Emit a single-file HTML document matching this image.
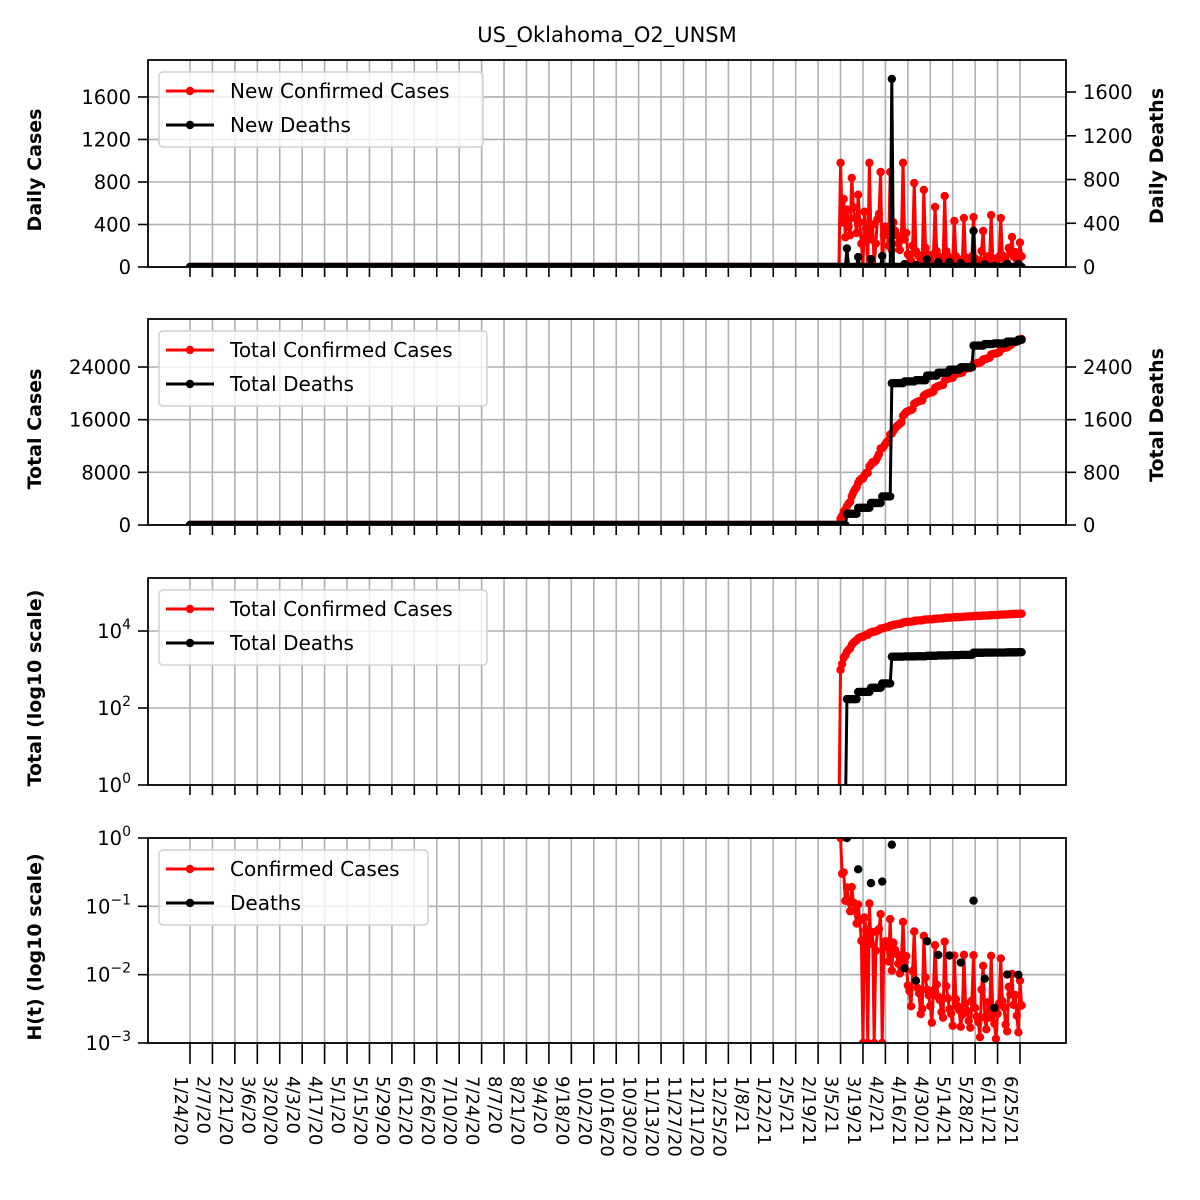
<!DOCTYPE html>
<html><head><meta charset="utf-8">
<style>
html,body{margin:0;padding:0;background:#fff;width:1200px;height:1200px;overflow:hidden;}
svg{display:block;font-family:"DejaVu Sans","Liberation Sans",sans-serif;}
</style></head>
<body>
<svg id="chart" width="1200" height="1200" viewBox="0 0 1200 1200" xmlns="http://www.w3.org/2000/svg">
<rect width="1200" height="1200" fill="#fff"/>
<text x="607" y="42" font-size="21" text-anchor="middle">US_Oklahoma_O2_UNSM</text>
</svg>
<script>
// ---- data ----
const leadingZeroDays = 406; // days 1/24/20 .. 3/4/21 with no reported values
const newCases = [
 980,420,640,280,540,380,300,
 838,560,460,320,680,420,220,
 5,520,360,4,980,260,400,
 5,220,450,500,894,3,300,
 380,330,200,894,160,420,340,
 300,220,160,260,980,260,320,
 120,100,60,200,790,150,120,
 100,50,60,725,180,120,100,
 70,40,120,565,150,100,90,
 60,50,668,150,100,70,60,
 40,433,100,80,70,40,60,
 461,90,70,50,40,100,470,
 80,60,50,30,150,339,60,
 40,100,60,489,80,50,30,
 70,100,461,110,90,50,40,
 180,140,282,100,140,70,40,
 230,100];
const deathDays = [410,417,425,432,438,446,453,460,467,474,481,489,496,502,510,517];
const deathValues = [170,91,73,100,1720,27,18,70,45,45,36,330,24,9,28,28];
const tickLabels = ["1/24/20","2/7/20","2/21/20","3/6/20","3/20/20","4/3/20","4/17/20","5/1/20","5/15/20","5/29/20","6/12/20","6/26/20","7/10/20","7/24/20","8/7/20","8/21/20","9/4/20","9/18/20","10/2/20","10/16/20","10/30/20","11/13/20","11/27/20","12/11/20","12/25/20","1/8/21","1/22/21","2/5/21","2/19/21","3/5/21","3/19/21","4/2/21","4/16/21","4/30/21","5/14/21","5/28/21","6/11/21","6/25/21"];
const tickStep = 14;
const dailyTicksL = [0,400,800,1200,1600];
const dailyTicksR = [0,400,800,1200,1600];
const totalTicksL = [0,8000,16000,24000];
const totalTicksR = [0,800,1600,2400];
const logTotalTicks = [0,2,4];
const logHTicks = [0,-1,-2,-3];

// ---- derived series ----
const nDays = leadingZeroDays + newCases.length;
const daily = [], dailyD = [];
for (let i=0;i<nDays;i++){ daily.push(i<leadingZeroDays?0:newCases[i-leadingZeroDays]); dailyD.push(0); }
deathDays.forEach((d,k)=>{ dailyD[d]=deathValues[k]; });
const total=[], totalD=[]; let s=0, sd=0;
for (let i=0;i<nDays;i++){ s+=daily[i]; sd+=dailyD[i]; total.push(s); totalD.push(sd); }
const hC = daily.map((v,i)=> total[i]>0 ? v/total[i] : NaN);
const hD = dailyD.map((v,i)=> totalD[i]>0 && v>0 ? v/totalD[i] : NaN);

// ---- layout ----
const svg = document.getElementById('chart');
const NS='http://www.w3.org/2000/svg';
const X0=148, X1=1066;
const xDay = d => 190 + d*(830/518);
function el(tag, attrs, parent){ const e=document.createElementNS(NS,tag); for(const k in attrs) e.setAttribute(k,attrs[k]); (parent||svg).appendChild(e); return e; }

const panels = [
 {name:'daily', top:60, bot:267},
 {name:'total', top:319, bot:525},
 {name:'log-total', top:578, bot:785},
 {name:'growth-rate', top:838, bot:1043}
];

function linY(p, max){ return v => p.bot - v/max*(p.bot-p.top); }
function logY(p, lo, hi){ return v => { const l = v>0 ? Math.log10(v) : -40; return p.bot - (l-lo)/(hi-lo)*(p.bot-p.top); }; }

panels.forEach((p,pi)=>{
  const g = el('g',{});
  
  
  p.g=g;
  const cp = el('clipPath',{id:'clip'+pi},g);
  el('rect',{x:X0,y:p.top,width:X1-X0,height:p.bot-p.top},cp);
  tickLabels.forEach((t,i)=>{
    const x=xDay(i*tickStep);
    const gl = el('line',{x1:x,x2:x,y1:p.top,y2:p.bot,stroke:'#b0b0b0','stroke-width':1.6},g);
    
    
    const tk = el('line',{x1:x,x2:x,y1:p.bot,y2:p.bot+(pi===3?21:10),stroke:'#000','stroke-width':1.6},g);
    
    
  });
});

function yTicks(p, vals, yf, labelFn, side){
  vals.forEach(v=>{
    const y=yf(v);
    if(side==='L'){
      const gl=el('line',{x1:X0,x2:X1,y1:y,y2:y,stroke:'#b0b0b0','stroke-width':1.6},p.g);
      
      
      el('line',{x1:X0-10,x2:X0,y1:y,y2:y,stroke:'#000','stroke-width':1.6},p.g);
    } else {
      el('line',{x1:X1,x2:X1+10,y1:y,y2:y,stroke:'#000','stroke-width':1.6},p.g);
    }
    const t=el('text',{x: side==='L'?X0-17:X1+17, y:y+7, 'font-size':19.5,'text-anchor': side==='L'?'end':'start'},p.g);
    
    
    labelFn(t,v);
  });
}
const plainLabel=(t,v)=>{t.textContent=String(v);};
const powLabel=(t,v)=>{ t.textContent='10'; const s=el('tspan',{dy:-9,'font-size':14},t); s.textContent = v<0 ? '\u2212'+(-v) : String(v); };

function series(p, pi, vals, yf, color, name, opts){
  const g=el('g',{'clip-path':'url(#clip'+pi+')'},p.g);
  
  
  const clampY = y => Math.max(p.top-30, Math.min(p.bot+30, y));
  let d='', pen=false;
  vals.forEach((v,i)=>{
    if(Number.isNaN(v)){ pen=false; return; }
    const x=xDay(i), y=clampY(yf(v));
    d += (pen?'L':'M')+x.toFixed(2)+' '+y.toFixed(2);
    pen=true;
  });
  if(!opts||!opts.noLine) el('path',{d:d,fill:'none',stroke:color,'stroke-width':3,'stroke-linejoin':'round'},g);
  vals.forEach((v,i)=>{
    if(Number.isNaN(v)) return;
    if(opts&&opts.skipZero&&v<=0) return;
    const y=yf(v);
    if(y<p.top-10||y>p.bot+10) return;
    const c=el('circle',{cx:xDay(i),cy:y,r:4.2,fill:color},g);
    
    
  });
}

let p=panels[0];
const y1L=linY(p,1948), y1R=linY(p,1893);
yTicks(p,dailyTicksL,y1L,plainLabel,'L');
yTicks(p,dailyTicksR,y1R,plainLabel,'R');
series(p,0,daily,y1L,'#ff0000','new-cases-series');
series(p,0,dailyD,y1R,'#000000','new-deaths-series');
p=panels[1];
const y2L=linY(p,31290), y2R=linY(p,3129);
yTicks(p,totalTicksL,y2L,plainLabel,'L');
yTicks(p,totalTicksR,y2R,plainLabel,'R');
series(p,1,total,y2L,'#ff0000','total-cases-series');
series(p,1,totalD,y2R,'#000000','total-deaths-series');
p=panels[2];
const y3=logY(p,0,5.377);
yTicks(p,logTotalTicks,v=>y3(Math.pow(10,v)),powLabel,'L');
series(p,2,total,y3,'#ff0000','log-total-cases-series',{skipZero:true});
series(p,2,totalD,y3,'#000000','log-total-deaths-series',{skipZero:true});
p=panels[3];
const y4=logY(p,-3,0);
yTicks(p,logHTicks,v=>y4(Math.pow(10,v)),powLabel,'L');
series(p,3,hC,v=>Math.min(p.bot,y4(v)),'#ff0000','h-cases-series');
series(p,3,hD,y4,'#000000','h-deaths-series',{noLine:true});

panels.forEach(p=>{
  const r=el('rect',{x:X0,y:p.top,width:X1-X0,height:p.bot-p.top,fill:'none',stroke:'#000','stroke-width':1.8},p.g);
  
  
});

const ylabels=[['Daily Cases',163,34],['Total Cases',422,34],['Total (log10 scale)',681,34],['H(t) (log10 scale)',940,34]];
ylabels.forEach(l=>{
  const t=el('text',{x:l[2],y:l[1],'font-size':19,'font-weight':'bold','text-anchor':'middle',transform:'rotate(-90 '+(l[2]+7)+' '+l[1]+')'});
  
  
  t.textContent=l[0];
});
const rlabels=[['Daily Deaths',163,1170],['Total Deaths',422,1170]];
rlabels.forEach(l=>{
  const t=el('text',{x:l[2],y:l[1],'font-size':19,'font-weight':'bold','text-anchor':'middle',transform:'rotate(-90 '+(l[2]-7)+' '+l[1]+')'});
  
  
  t.textContent=l[0];
});

tickLabels.forEach((lab,i)=>{
  const x=xDay(i*tickStep)-15;
  const t=el('text',{x:x,y:1076,'font-size':18,transform:'rotate(90 '+x+' 1076)'});
  
  
  t.textContent=lab;
});

const legends=[
  [0,['New Confirmed Cases','New Deaths'],324],
  [1,['Total Confirmed Cases','Total Deaths'],328],
  [2,['Total Confirmed Cases','Total Deaths'],328],
  [3,['Confirmed Cases','Deaths'],269]
];
legends.forEach(L=>{
  const p=panels[L[0]];
  const g=el('g',{},p.g);
  
  
  const top=p.top+12;
  el('rect',{x:159,y:top,width:L[2],height:75,rx:4,fill:'#fff','fill-opacity':0.8,stroke:'#d0d0d0','stroke-width':1.5},g);
  ['#ff0000','#000000'].forEach((c,k)=>{
    const y=top+19+k*34;
    const e=el('g',{},g);
    
    
    el('line',{x1:166,x2:214,y1:y,y2:y,stroke:c,'stroke-width':3},e);
    el('circle',{cx:190,cy:y,r:4.2,fill:c},e);
    const t=el('text',{x:230,y:y+7,'font-size':20},e);
    t.textContent=L[1][k];
  });
});
</script>
</body></html>
